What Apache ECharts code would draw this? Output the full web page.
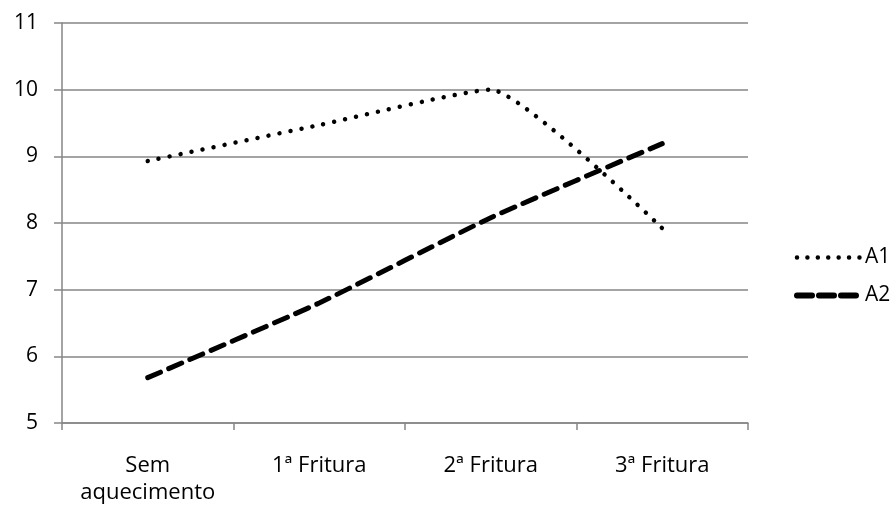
<!DOCTYPE html>
<html>
<head>
<meta charset="utf-8">
<script src="https://cdn.jsdelivr.net/npm/echarts@6/dist/echarts.min.js"></script>
<style>
  html, body { margin: 0; padding: 0; background: #ffffff; }
  #chart { width: 896px; height: 509px; }
</style>
</head>
<body>
<div id="chart"></div>
<script>
// Categories along the x axis
const categories = ['Sem\naquecimento', '1ª Fritura', '2ª Fritura', '3ª Fritura'];
// Series values
const seriesA1 = [8.93, 9.47, 10.0, 7.92];
const seriesA2 = [5.68, 6.80, 8.08, 9.19];
// Value axis range
const yMin = 5;
const yMax = 11;
const yStep = 1;

const FONT = '"Open Sans", "Noto Sans", sans-serif';
const GRAY = '#868686';

const dotStyle = { color: '#000000', width: 4.5, type: [0.01, 11.2], cap: 'round' };
const dashStyle = { color: '#000000', width: 5, type: [14, 9], cap: 'round' };

const chart = echarts.init(document.getElementById('chart'), null, { renderer: 'canvas' });

chart.setOption({
  animation: false,
  backgroundColor: '#ffffff',
  grid: { left: 62, right: 148, top: 23, bottom: 86, containLabel: false },
  legend: {
    orient: 'vertical',
    left: 789,
    top: 242,
    itemWidth: 63,
    itemHeight: 20,
    itemGap: 17,
    itemStyle: { opacity: 0 },
    textStyle: { fontFamily: FONT, fontSize: 21, color: '#000000' },
    data: [
      { name: 'A1', lineStyle: { width: 4.5, type: [0.01, 10.4], cap: 'round', color: '#000000' } },
      { name: 'A2', lineStyle: { width: 6, type: [15, 7], cap: 'round', color: '#000000' } }
    ]
  },
  xAxis: {
    type: 'category',
    data: categories,
    boundaryGap: true,
    axisLine: { lineStyle: { color: GRAY, width: 1.5 } },
    axisTick: { show: true, length: 7, lineStyle: { color: GRAY, width: 1.5 } },
    axisLabel: {
      color: '#000000', fontFamily: FONT, fontSize: 22, lineHeight: 27,
      margin: 29, interval: 0
    }
  },
  yAxis: {
    type: 'value',
    min: yMin,
    max: yMax,
    interval: yStep,
    axisLine: { show: true, lineStyle: { color: GRAY, width: 1.5 } },
    axisTick: { show: true, length: 8, lineStyle: { color: GRAY, width: 1.5 } },
    splitLine: { lineStyle: { color: GRAY, width: 1.5 } },
    axisLabel: { color: '#000000', fontFamily: FONT, fontSize: 21, margin: 24 }
  },
  series: [
    {
      name: 'A1',
      type: 'line',
      data: seriesA1,
      smooth: 0.15,
      symbol: 'none',
      lineStyle: dotStyle,
      itemStyle: { color: '#000000' }
    },
    {
      name: 'A2',
      type: 'line',
      data: seriesA2,
      smooth: 0.15,
      symbol: 'none',
      lineStyle: dashStyle,
      itemStyle: { color: '#000000' }
    }
  ]
});
</script>
</body>
</html>
